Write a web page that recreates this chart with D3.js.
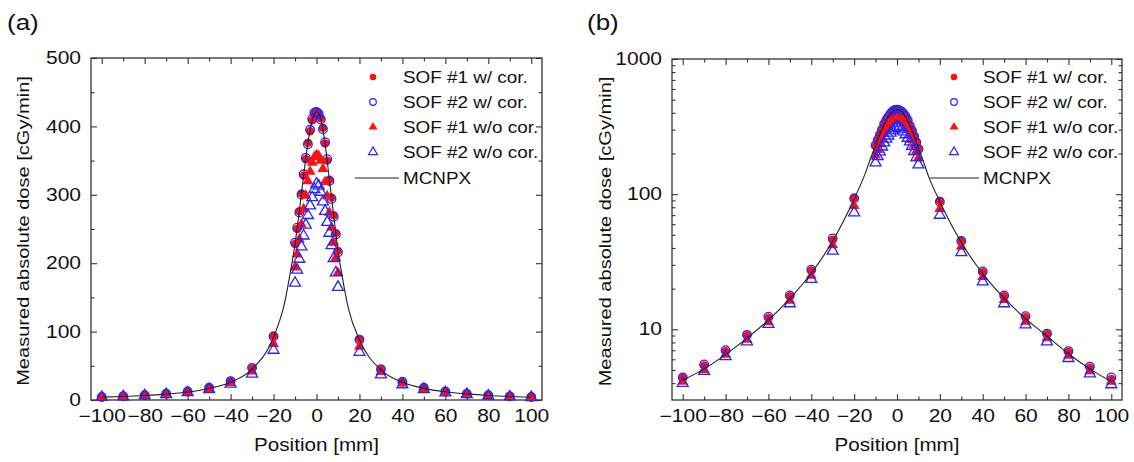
<!DOCTYPE html>
<html>
<head>
<meta charset="utf-8">
<script src="https://cdn.jsdelivr.net/npm/d3@7"></script>
<style>
  body { margin: 0; background: #fff; }
  text { font-family: "Liberation Sans", Arial, Helvetica, sans-serif; fill: #111; }
</style>
</head>
<body>
<svg id="chart" width="1134" height="462"></svg>
<script>
// Measurement positions [mm]
const positions = [-100, -90, -80, -70, -60, -50, -40, -30, -20,
  -10, -9, -8, -7, -6, -5, -4, -3, -2, -1, 0, 1, 2, 3, 4, 5, 6, 7, 8, 9, 10,
  20, 30, 40, 50, 60, 70, 80, 90, 100];

// Measured absolute dose [cGy/min]
const sof1Cor = [4.4, 5.4, 6.9, 9.0, 12.2, 17.6, 27.3, 46, 94,
  228, 250, 276, 302, 328, 352, 376, 393, 409, 419, 422, 420, 412, 398, 375, 350, 322, 296, 270, 244, 218,
  89, 45, 26.5, 17.6, 12.3, 9.2, 6.8, 5.2, 4.3];
const sof2Cor = [4.4, 5.5, 7.0, 9.1, 12.4, 17.8, 27.6, 47, 93,
  230, 252, 274, 300, 330, 354, 374, 395, 411, 420, 421, 418, 410, 396, 377, 352, 320, 294, 268, 242, 216,
  88, 45, 26.8, 17.8, 12.5, 9.3, 6.9, 5.3, 4.4];
const sof1NoCor = [4.1, 5.0, 6.5, 8.4, 11.3, 16.3, 25.0, 42, 82,
  194, 213, 235, 257, 279, 299, 320, 334, 347, 355, 358, 357, 350, 338, 319, 298, 274, 252, 230, 208, 186,
  78, 41, 24.5, 16.5, 11.4, 8.6, 6.4, 4.9, 4.1];
const sof2NoCor = [4.0, 4.9, 6.3, 8.1, 10.9, 15.5, 23.5, 38, 73,
  171, 190, 206, 224, 240, 256, 270, 284, 296, 308, 316, 313, 304, 290, 276, 260, 244, 226, 207, 186, 165,
  70, 37, 22.5, 15.5, 10.8, 8.1, 6.1, 4.7, 3.9];

// MCNPX simulation
const mcnpxPos = [-100, -90, -80, -70, -60, -50, -40, -30, -20,
  -15, -12, -10, -8, -6, -4, -2, -1, 0, 1, 2, 4, 6, 8, 10, 12, 15,
  20, 30, 40, 50, 60, 70, 80, 90, 100];
const mcnpxDose = [4.2, 5.1, 6.5, 8.6, 11.7, 16.9, 26, 45, 92,
  140, 190, 228, 276, 328, 376, 409, 418, 421, 419, 411, 374, 322, 270, 219, 180, 132,
  88, 44, 25.8, 17, 12, 8.9, 6.6, 5.1, 4.1];

// Axis ticks
const xTicks = [-100, -80, -60, -40, -20, 0, 20, 40, 60, 80, 100];
const xMinorTicks = [-90, -70, -50, -30, -10, 10, 30, 50, 70, 90];
const linTicks = [0, 100, 200, 300, 400, 500];
const linMinorTicks = [50, 150, 250, 350, 450];
const logTicks = [10, 100, 1000];
const logMinorTicks = [4, 5, 6, 7, 8, 9, 20, 30, 40, 50, 60, 70, 80, 90, 200, 300, 400, 500, 600, 700, 800, 900];

const legendLabels = ["SOF #1 w/ cor.", "SOF #2 w/ cor.", "SOF #1 w/o cor.", "SOF #2 w/o cor.", "MCNPX"];
const panelLabels = ["(a)", "(b)"];
const xTitle = "Position [mm]";
const yTitle = "Measured absolute dose [cGy/min]";

const RED = "#ff1010";
const BLUE = "#2424ff";
const AXIS = "#333";
const SX = 1.18; // horizontal widening of the typeface
const TICK_FONT = 17.5;

const svg = d3.select("#chart");

function widen(sel, sx) {
  sel.each(function () {
    const t = d3.select(this);
    const x = +t.attr("x") || 0;
    t.attr("x", x / sx).attr("transform", `scale(${sx},1)`);
  });
}

function label(g, x, y, str, size, anchor, rot) {
  return g.append("text")
    .attr("transform", `translate(${x},${y})${rot ? " rotate(" + rot + ")" : ""} scale(${SX},1)`)
    .attr("text-anchor", anchor || "start")
    .style("font-size", size + "px")
    .text(str);
}

const triangle = d3.symbol().type(d3.symbolTriangle);

function drawPanel(cfg) {
  const g = svg.append("g");
  const x = d3.scaleLinear().domain([-105, 105]).range([cfg.left, cfg.right]);
  const y = cfg.log
    ? d3.scaleLog().domain([3, 1000]).range([cfg.bottom, cfg.top])
    : d3.scaleLinear().domain([0, 500]).range([cfg.bottom, cfg.top]);

  const yMajor = cfg.log ? logTicks : linTicks;
  const yMinor = cfg.log ? logMinorTicks : linMinorTicks;

  const styleAxis = sel => {
    sel.select(".domain").remove();
    sel.selectAll("line").attr("stroke", AXIS).attr("stroke-width", 1.1);
  };

  // bottom axis with labels
  const bx = g.append("g").attr("transform", `translate(0,${cfg.bottom})`)
    .call(d3.axisBottom(x).tickValues(xTicks).tickSizeInner(-6).tickSizeOuter(0).tickPadding(10)
      .tickFormat(d => d < 0 ? "\u2212" + (-d) : String(d)));
  bx.selectAll("text").style("font-size", TICK_FONT + "px").attr("fill", "#111");
  widen(bx.selectAll("text"), 1.2);
  styleAxis(bx);
  const bxm = g.append("g").attr("transform", `translate(0,${cfg.bottom})`)
    .call(d3.axisBottom(x).tickValues(xMinorTicks).tickSizeInner(-3.5).tickSizeOuter(0).tickFormat(""));
  styleAxis(bxm);

  // top mirror axis
  const tx = g.append("g").attr("transform", `translate(0,${cfg.top})`)
    .call(d3.axisTop(x).tickValues(xTicks).tickSizeInner(-6).tickSizeOuter(0).tickFormat(""));
  styleAxis(tx);
  const txm = g.append("g").attr("transform", `translate(0,${cfg.top})`)
    .call(d3.axisTop(x).tickValues(xMinorTicks).tickSizeInner(-3.5).tickSizeOuter(0).tickFormat(""));
  styleAxis(txm);

  // left axis with labels
  const ly = g.append("g").attr("transform", `translate(${cfg.left},0)`)
    .call(d3.axisLeft(y).tickValues(yMajor).tickSizeInner(-6).tickSizeOuter(0).tickPadding(10)
      .tickFormat(d => String(d)));
  ly.selectAll("text").style("font-size", TICK_FONT + "px").attr("fill", "#111");
  widen(ly.selectAll("text"), 1.2);
  styleAxis(ly);
  const lym = g.append("g").attr("transform", `translate(${cfg.left},0)`)
    .call(d3.axisLeft(y).tickValues(yMinor).tickSizeInner(-3.5).tickSizeOuter(0).tickFormat(""));
  styleAxis(lym);

  // right mirror axis
  const ry = g.append("g").attr("transform", `translate(${cfg.right},0)`)
    .call(d3.axisRight(y).tickValues(yMajor).tickSizeInner(-6).tickSizeOuter(0).tickFormat(""));
  styleAxis(ry);
  const rym = g.append("g").attr("transform", `translate(${cfg.right},0)`)
    .call(d3.axisRight(y).tickValues(yMinor).tickSizeInner(-3.5).tickSizeOuter(0).tickFormat(""));
  styleAxis(rym);

  // frame
  g.append("rect")
    .attr("x", cfg.left).attr("y", cfg.top)
    .attr("width", cfg.right - cfg.left).attr("height", cfg.bottom - cfg.top)
    .attr("fill", "none").attr("stroke", AXIS).attr("stroke-width", 1.3);

  // series markers
  const pts = arr => positions.map((p, i) => [p, arr[i]]);

  g.append("g").selectAll("circle").data(pts(sof1Cor)).join("circle")
    .attr("cx", d => x(d[0])).attr("cy", d => y(d[1])).attr("r", 4.2)
    .attr("fill", RED);

  g.append("g").selectAll("circle").data(pts(sof2Cor)).join("circle")
    .attr("cx", d => x(d[0])).attr("cy", d => y(d[1])).attr("r", 4.3)
    .attr("fill", "none").attr("stroke", BLUE).attr("stroke-width", 1.3);

  g.append("g").selectAll("path").data(pts(sof1NoCor)).join("path")
    .attr("d", triangle.size(52)())
    .attr("transform", d => `translate(${x(d[0])},${y(d[1])})`)
    .attr("fill", RED);

  g.append("g").selectAll("path").data(pts(sof2NoCor)).join("path")
    .attr("d", triangle.size(52)())
    .attr("transform", d => `translate(${x(d[0])},${y(d[1])})`)
    .attr("fill", "none").attr("stroke", BLUE).attr("stroke-width", 1.3);

  // MCNPX curve
  const line = d3.line().x(d => x(d[0])).y(d => y(d[1])).curve(d3.curveMonotoneX);
  g.append("path")
    .datum(mcnpxPos.map((p, i) => [p, mcnpxDose[i]]))
    .attr("d", line)
    .attr("fill", "none").attr("stroke", "#222").attr("stroke-width", 1.1);

  // legend
  const lg = g.append("g");
  const rows = [77, 102, 127, 152, 178];
  lg.append("circle").attr("cx", cfg.legX).attr("cy", rows[0]).attr("r", 3.3).attr("fill", RED);
  lg.append("circle").attr("cx", cfg.legX).attr("cy", rows[1]).attr("r", 3.3)
    .attr("fill", "none").attr("stroke", BLUE).attr("stroke-width", 1.2);
  lg.append("path").attr("d", triangle.size(34)())
    .attr("transform", `translate(${cfg.legX},${rows[2]})`).attr("fill", RED);
  lg.append("path").attr("d", triangle.size(34)())
    .attr("transform", `translate(${cfg.legX},${rows[3]})`)
    .attr("fill", "none").attr("stroke", BLUE).attr("stroke-width", 1.2);
  lg.append("line").attr("x1", cfg.legLine0).attr("x2", cfg.legText - 4)
    .attr("y1", rows[4]).attr("y2", rows[4]).attr("stroke", "#222").attr("stroke-width", 1.1);
  legendLabels.forEach((t, i) => {
    label(lg, cfg.legText, rows[i], t, 16, "start").attr("dy", "0.36em");
  });

  // titles
  label(g, (cfg.left + cfg.right) / 2, 451, xTitle, 17.5, "middle");
  label(g, cfg.yTitleX, (cfg.top + cfg.bottom) / 2 + 2, yTitle, 17, "middle", -90);
  label(g, cfg.tagX, 30, cfg.tag, 22, "start");
}

drawPanel({ left: 91, right: 542, top: 58, bottom: 400, log: false,
  legX: 373, legText: 403, legLine0: 355, yTitleX: 29, tagX: 7, tag: panelLabels[0] });
drawPanel({ left: 672, right: 1122, top: 59, bottom: 400, log: true,
  legX: 954, legText: 983, legLine0: 930, yTitleX: 611, tagX: 587, tag: panelLabels[1] });
</script>
</body>
</html>
